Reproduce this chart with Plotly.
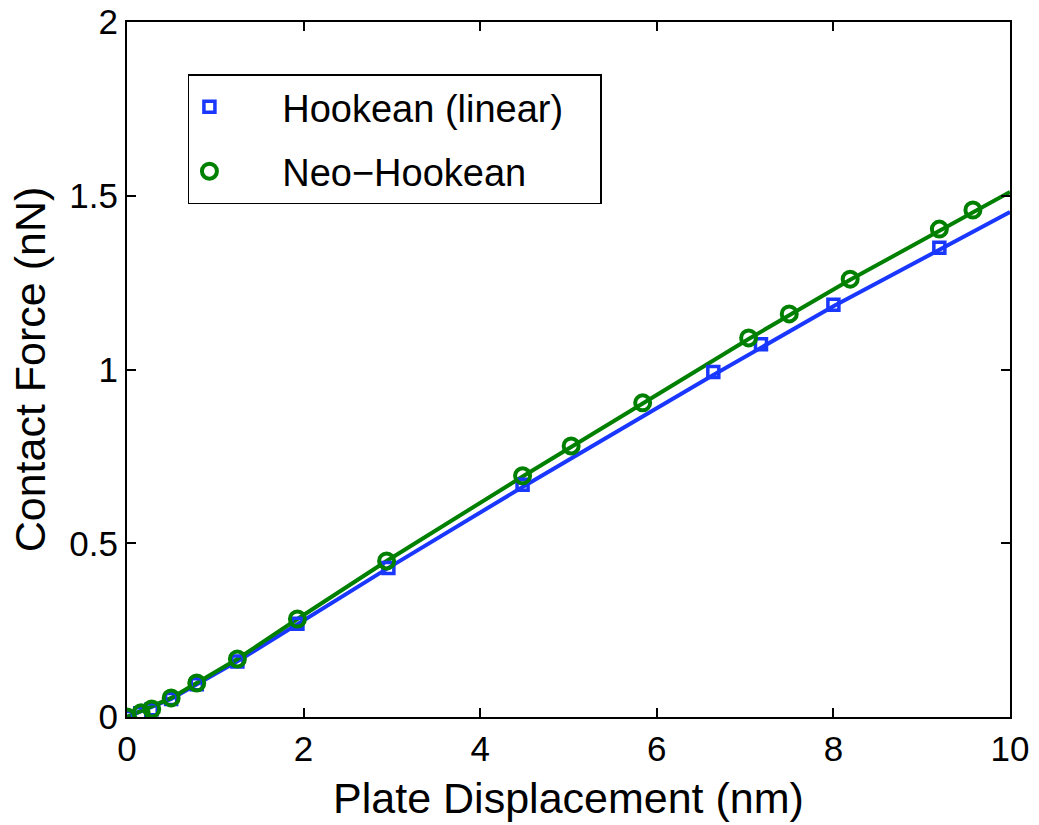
import plotly.graph_objects as go

# Hookean (linear) markers
hook_x = [0, 0.15, 0.28, 0.5, 0.79, 1.25, 1.93, 2.96, 4.48, 6.64, 7.18, 8.0, 9.2]
hook_y = [0, 0.011, 0.022, 0.052, 0.094, 0.16, 0.268, 0.429, 0.668, 0.993, 1.073, 1.186, 1.350]
# Hookean line
hook_line_x = [0, 0.5, 1.25, 1.93, 2.96, 4.48, 6.64, 8.0, 9.2, 10]
hook_line_y = [0, 0.052, 0.16, 0.268, 0.429, 0.662, 0.984, 1.182, 1.345, 1.453]

# Neo-Hookean markers
neo_x = [0, 0.16, 0.28, 0.5, 0.79, 1.25, 1.93, 2.94, 4.48, 5.03, 5.84, 7.04, 7.5, 8.19, 9.2, 9.58]
neo_y = [0, 0.012, 0.023, 0.055, 0.098, 0.167, 0.282, 0.449, 0.694, 0.780, 0.904, 1.091, 1.160, 1.260, 1.404, 1.459]
# Neo-Hookean line
neo_line_x = [0, 0.5, 1.25, 1.93, 2.94, 4.48, 5.84, 7.04, 8.19, 9.2, 10]
neo_line_y = [0, 0.055, 0.167, 0.282, 0.449, 0.692, 0.902, 1.088, 1.258, 1.400, 1.511]

x_ticks = [0, 2, 4, 6, 8, 10]
y_ticks = [0, 0.5, 1, 1.5, 2]
y_tick_text = ["0", "0.5", "1", "1.5", "2"]

BLUE = "rgb(25,55,255)"
GREEN = "rgb(0,128,0)"
FONT = "Liberation Sans, Arial, sans-serif"
PAD = "\u00a0" * 5
TAIL = "\u00a0" * 3

fig = go.Figure()
fig.add_trace(go.Scatter(x=hook_line_x, y=hook_line_y, mode="lines",
                         line=dict(color=BLUE, width=4), showlegend=False, hoverinfo="skip"))
fig.add_trace(go.Scatter(x=neo_line_x, y=neo_line_y, mode="lines",
                         line=dict(color=GREEN, width=4), showlegend=False, hoverinfo="skip"))
fig.add_trace(go.Scatter(x=hook_x, y=hook_y, mode="markers", name=PAD + "Hookean (linear)" + TAIL,
                         legendgroup="a",
                         marker=dict(symbol="square-open", size=11, color=BLUE, line=dict(width=3.5, color=BLUE))))
fig.add_trace(go.Scatter(x=neo_x, y=neo_y, mode="markers", name=PAD + "Neo\u2212Hookean",
                         legendgroup="b",
                         marker=dict(symbol="circle-open", size=15, color=GREEN, line=dict(width=4, color=GREEN))))

axis_common = dict(
    showline=True, linecolor="black", linewidth=2, mirror="ticks",
    ticks="inside", ticklen=9, tickwidth=1.5, tickcolor="black",
    showgrid=False, zeroline=False, automargin=False,
    tickfont=dict(family=FONT, size=35, color="black"),
)

fig.update_xaxes(range=[0, 10], tickvals=x_ticks, ticktext=[str(t) for t in x_ticks],
                 title=dict(text="Plate Displacement (nm)", font=dict(family=FONT, size=43, color="black"), standoff=16),
                 **axis_common)
fig.update_yaxes(range=[0, 2], tickvals=y_ticks, ticktext=y_tick_text,
                 title=dict(text="Contact Force (nN)", font=dict(family=FONT, size=43, color="black"), standoff=10),
                 **axis_common)

fig.update_layout(
    width=1039, height=825,
    margin=dict(l=127, r=29, t=22, b=108),
    plot_bgcolor="white", paper_bgcolor="white",
    font=dict(family=FONT, color="black"),
    legend=dict(x=0.069, y=0.925, xanchor="left", yanchor="top",
                bgcolor="white", bordercolor="black", borderwidth=1.5,
                font=dict(family=FONT, size=38, color="black"),
                traceorder="grouped", tracegroupgap=12, itemwidth=30),
)

fig.write_html("out.html")
